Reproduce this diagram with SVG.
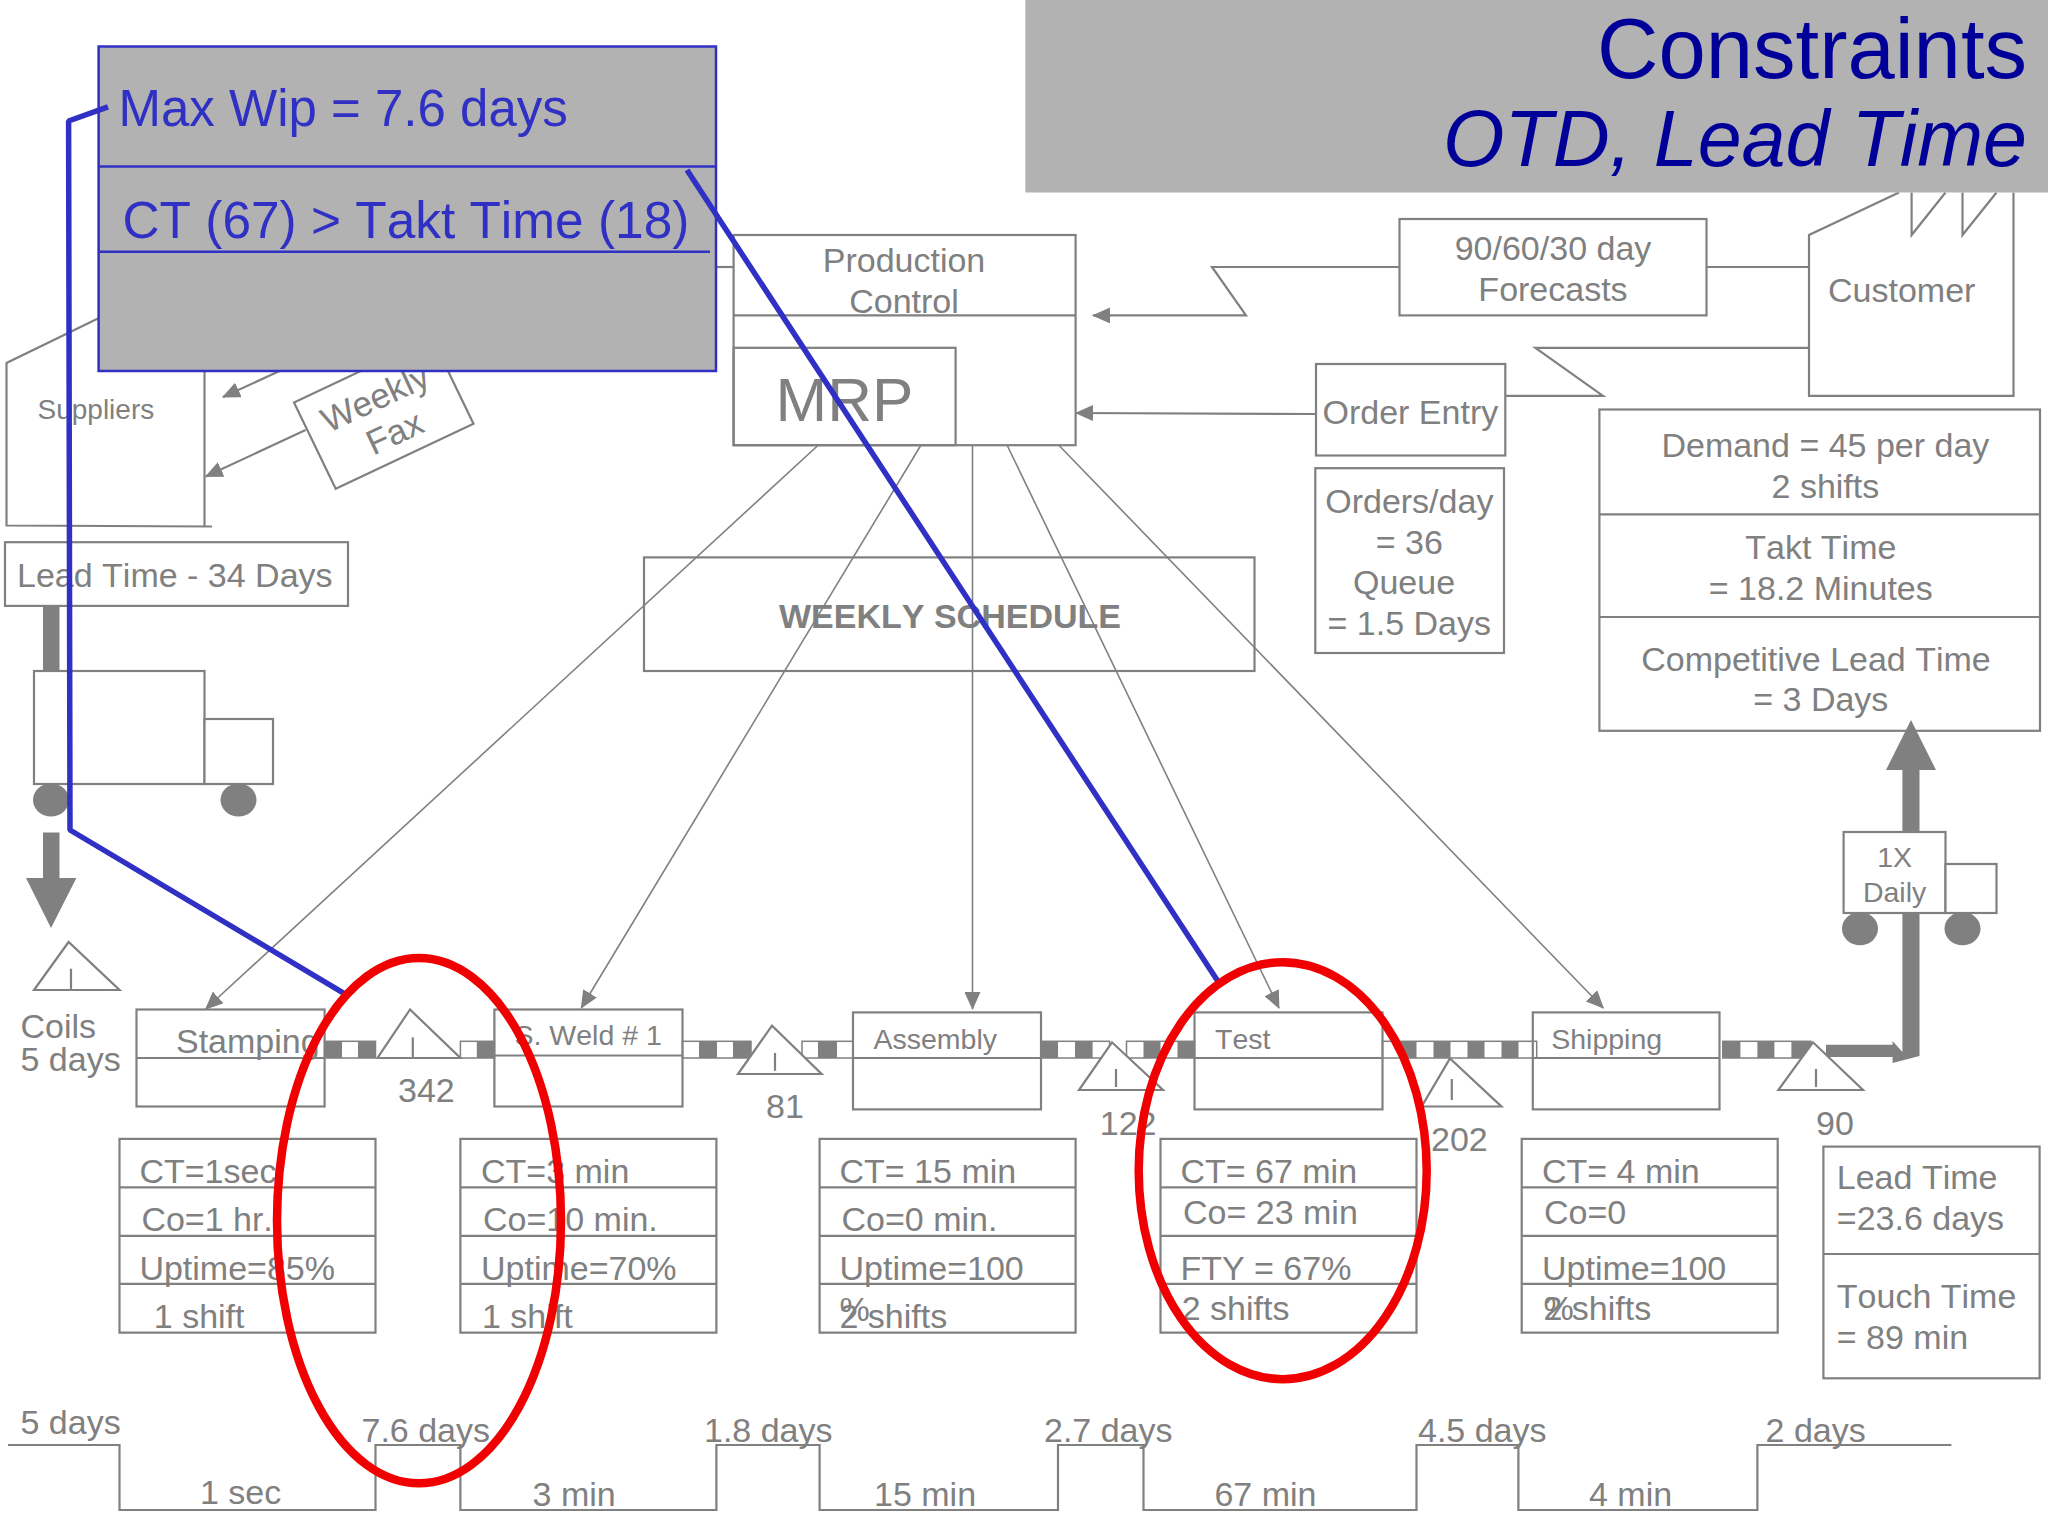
<svg xmlns="http://www.w3.org/2000/svg" width="2048" height="1536" viewBox="0 0 2048 1536">
<style>
text{font-family:"Liberation Sans",Arial,sans-serif;fill:#808080;font-size:34px;font-kerning:none}
.m{text-anchor:middle}
.s{font-size:28.500px}
.b{fill:#fff;stroke:#808080;stroke-width:2.200}
.n{fill:none;stroke:#808080;stroke-width:2.200}
.t{fill:none;stroke:#808080;stroke-width:1.600}
.g{fill:#808080;stroke:none}
.w{fill:#fff;stroke:#808080;stroke-width:1.500}
.bl{fill:none;stroke:#3030c4;stroke-width:5.500;stroke-linejoin:bevel}
.bt{fill:#3030c4;font-size:51px}
.red{fill:none;stroke:#f00000;stroke-width:8.500}
.panel{fill:#b2b2b2}
.tt{fill:#000099;text-anchor:end}
</style>
<defs>
<marker id="ah" markerUnits="userSpaceOnUse" markerWidth="18" markerHeight="16" refX="17" refY="8" orient="auto"><path d="M0 0L18 8L0 16Z" fill="#808080"/></marker>
</defs>
<rect width="2048" height="1536" fill="#fff"/>

<g id="connectors">
<path class="t" d="M818.400 445L205.700 1009" marker-end="url(#ah)"/>
<path class="t" d="M921 445L581.300 1008" marker-end="url(#ah)"/>
<path class="t" d="M972.500 445V1009" marker-end="url(#ah)"/>
<path class="t" d="M1007 445L1279 1008" marker-end="url(#ah)"/>
<path class="t" d="M1058.600 445L1603.300 1008" marker-end="url(#ah)"/>
<path class="n" d="M1399.500 267H1212L1246 315.400H1093" marker-end="url(#ah)"/>
<path class="n" d="M1706.500 267H1809"/>
<path class="n" d="M1809 347.800H1535.400L1603 395.800H1505.300"/>
<path class="n" d="M1316 414L1076 413" marker-end="url(#ah)"/>
<path class="n" d="M279.600 371L223 397" marker-end="url(#ah)"/>
<path class="n" d="M305.600 430L205.700 476.600" marker-end="url(#ah)"/>
<path class="n" d="M716 267H734"/>
<rect class="g" x="43" y="606" width="16.500" height="65"/>
<path class="g" d="M43 832.600H59.500V878H76.400L51 928L26 878H43Z"/>
<path class="g" d="M1902.400 1052V770H1886L1911 720L1936 770H1919.500V1056L1892.600 1063V1057H1826V1044.700H1892.600V1041Z"/>
</g>

<g id="timeline">
<path class="n" d="M8 1445H119.500V1510H375.500V1445H460.400V1510H716.400V1445H819.600V1510H1058V1445H1143.500V1510H1416.500V1445H1518.400V1510H1757.400V1445H1951.400"/>
<text x="20.500" y="1434">5 days</text>
<text x="200" y="1504">1 sec</text>
<text x="361.500" y="1441.500">7.6 days</text>
<text x="532.600" y="1506">3 min</text>
<text x="704" y="1441.500">1.8 days</text>
<text x="874" y="1506">15 min</text>
<text x="1044" y="1441.500">2.7 days</text>
<text x="1214.400" y="1506">67 min</text>
<text x="1418" y="1441.500">4.5 days</text>
<text x="1589" y="1506">4 min</text>
<text x="1765.600" y="1441.500">2 days</text>
</g>

<g id="suppliers">
<path class="n" d="M98 318.400L6.500 363V525.500L212 526.500M204.500 371V526.500"/>
<text x="37.500" y="418.800" style="font-size:28px">Suppliers</text>
</g>
<g id="weekly-fax">
<path class="b" d="M294 402.600L335.700 488.800L473.500 423.700L431.800 337.500Z"/>
<text class="m" transform="translate(375.500 399) rotate(-25)" y="11" style="font-size:35px">Weekly</text>
<text class="m" transform="translate(395 433.500) rotate(-25)" y="11" style="font-size:35px">Fax</text>
</g>
<g id="lead-time-34">
<rect class="n" x="5" y="542.200" width="343" height="63.700"/>
<text x="17" y="586.800">Lead Time - 34 Days</text>
</g>
<g id="supplier-truck">
<rect class="b" x="34" y="671" width="170.500" height="113"/>
<rect class="b" x="204.500" y="719" width="68.500" height="65"/>
<ellipse class="g" cx="51" cy="800" rx="18" ry="16.600"/>
<ellipse class="g" cx="238.500" cy="800" rx="18" ry="16.600"/>
</g>
<g id="coils">
<path class="n" d="M68.600 942L34 990H119.500ZM71 968.800V990"/>
<text x="20.500" y="1038.400">Coils</text>
<text x="20.500" y="1070.700">5 days</text>
</g>

<g id="production-control">
<rect class="n" x="733.600" y="235" width="342" height="210.200"/>
<path class="n" d="M733.600 315.400H1075.600"/>
<rect class="n" x="733.600" y="347.800" width="222" height="97.400"/>
<text class="m" x="904" y="272">Production</text>
<text class="m" x="904" y="312.500">Control</text>
<text x="775.500" y="421" style="font-size:62px">MRP</text>
</g>
<g id="weekly-schedule">
<rect class="n" x="644" y="557.400" width="610.500" height="113.600"/>
<text class="m" x="950" y="628" style="font-size:34px;font-weight:bold">WEEKLY SCHEDULE</text>
</g>
<g id="forecasts">
<rect class="n" x="1399.500" y="219" width="307" height="96.400"/>
<text class="m" x="1553" y="259.600">90/60/30 day</text>
<text class="m" x="1553" y="301">Forecasts</text>
</g>
<g id="customer">
<path class="n" d="M1899 192.500L1809 235V395.800H2013.500V192.500M1911.600 192.500V235L1945.500 192.500M1962.500 192.500V235L1996.500 192.500"/>
<text x="1828" y="302">Customer</text>
</g>
<g id="order-entry">
<rect class="n" x="1316" y="364" width="189.300" height="91.500"/>
<text x="1322.500" y="423.700">Order Entry</text>
</g>
<g id="orders-day">
<rect class="n" x="1315.300" y="468.200" width="188.700" height="184.800"/>
<text class="m" x="1409.300" y="512.800">Orders/day</text>
<text class="m" x="1409.300" y="553.500">= 36</text>
<text class="m" x="1404" y="594">Queue</text>
<text class="m" x="1409.300" y="635">= 1.5 Days</text>
</g>
<g id="demand">
<rect class="n" x="1599.400" y="409.500" width="440.600" height="321.300"/>
<path class="n" d="M1599.400 514.300H2040M1599.400 617H2040"/>
<text class="m" x="1825.400" y="457">Demand = 45 per day</text>
<text class="m" x="1825.400" y="498">2 shifts</text>
<text class="m" x="1820.800" y="559.300">Takt Time</text>
<text class="m" x="1820.800" y="600">= 18.2 Minutes</text>
<text class="m" x="1816" y="671">Competitive Lead Time</text>
<text class="m" x="1820.800" y="711">= 3 Days</text>
</g>
<g id="daily-truck">
<rect class="b" x="1843.600" y="832" width="101.900" height="81"/>
<rect class="b" x="1945.500" y="864" width="51" height="49"/>
<ellipse class="g" cx="1860" cy="928.700" rx="18" ry="16.600"/>
<ellipse class="g" cx="1962.500" cy="928.700" rx="18" ry="16.600"/>
<text class="m s" x="1894.600" y="867.400">1X</text>
<text class="m s" x="1894.600" y="901.700">Daily</text>
</g>

<g id="conveyors">
<rect class="w" x="324.600" y="1041.300" width="50.900" height="16.700"/><rect class="g" x="324.600" y="1041.300" width="17.400" height="16.700"/><rect class="g" x="358" y="1041.300" width="17.500" height="16.700"/>
<rect class="w" x="460.400" y="1041.300" width="34" height="16.700"/><rect class="g" x="476.800" y="1041.300" width="17.600" height="16.700"/>
<rect class="w" x="682.500" y="1041.300" width="68.500" height="16.700"/><rect class="g" x="699" y="1041.300" width="18" height="16.700"/><rect class="g" x="733" y="1041.300" width="18" height="16.700"/>
<rect class="w" x="802" y="1041.300" width="51" height="16.700"/><rect class="g" x="818" y="1041.300" width="19" height="16.700"/>
<rect class="w" x="1041" y="1041.300" width="68.600" height="16.700"/><rect class="g" x="1041" y="1041.300" width="17" height="16.700"/><rect class="g" x="1075" y="1041.300" width="17.600" height="16.700"/>
<rect class="w" x="1126.500" y="1041.300" width="68" height="16.700"/><rect class="g" x="1143.500" y="1041.300" width="17" height="16.700"/><rect class="g" x="1177.500" y="1041.300" width="17" height="16.700"/>
<rect class="w" x="1382.500" y="1041.300" width="154.200" height="16.700"/><rect class="g" x="1399.500" y="1041.300" width="17" height="16.700"/><rect class="g" x="1433.500" y="1041.300" width="17" height="16.700"/><rect class="g" x="1467.500" y="1041.300" width="17" height="16.700"/><rect class="g" x="1501.500" y="1041.300" width="17" height="16.700"/>
<rect class="w" x="1722.800" y="1041.300" width="88.200" height="16.700"/><rect class="g" x="1722.800" y="1041.300" width="17.600" height="16.700"/><rect class="g" x="1757.400" y="1041.300" width="17" height="16.700"/><rect class="g" x="1791.400" y="1041.300" width="19.600" height="16.700"/>
</g>

<g id="inv-342"><path class="b" d="M410 1009.500L377.500 1058H460.400Z"/><path class="n" d="M412.800 1037.400V1057"/><text x="398" y="1102">342</text></g>
<g id="inv-81"><path class="b" d="M772 1025.600L738 1074H821.600Z"/><path class="n" d="M775 1053V1070.700"/><text x="766" y="1118">81</text></g>
<g id="inv-122"><path class="b" d="M1112 1042.300L1079 1090H1163Z"/><path class="n" d="M1116 1069V1087"/><text x="1099.800" y="1135">122</text></g>
<g id="inv-202"><path class="b" d="M1450 1058.400L1421.700 1106.500H1501.400Z"/><path class="n" d="M1451.800 1079V1100"/><text x="1431" y="1151">202</text></g>
<g id="inv-90"><path class="b" d="M1813 1042.300L1778.300 1090H1863Z"/><path class="n" d="M1816 1069V1087"/><text x="1816" y="1135">90</text></g>

<g id="stamping">
<rect class="n" x="136.500" y="1009.500" width="188.100" height="97"/><path class="n" d="M136.500 1058H324.600"/>
<text x="176" y="1052.500">Stamping</text>
</g>
<g id="s-weld">
<rect class="n" x="494.400" y="1009.500" width="188.100" height="97"/><path class="n" d="M494.400 1055.500H682.500"/>
<text class="s" x="514.500" y="1045">S. Weld # 1</text>
</g>
<g id="assembly">
<rect class="n" x="853" y="1012.400" width="188" height="97"/><path class="n" d="M853 1058H1041"/>
<text class="s" x="873.500" y="1048.600">Assembly</text>
</g>
<g id="test">
<rect class="n" x="1194.500" y="1012.400" width="188" height="97"/><path class="n" d="M1194.500 1058H1382.500"/>
<text class="s" x="1215" y="1048.600">Test</text>
</g>
<g id="shipping">
<rect class="n" x="1532.800" y="1012.400" width="186.700" height="97"/><path class="n" d="M1532.800 1058H1719.500"/>
<text class="s" x="1551.200" y="1048.600">Shipping</text>
</g>

<g id="data-stamping">
<path class="n" d="M119.500 1138.800H375.500V1332.700H119.500ZM119.500 1187.300H375.500M119.500 1235.800H375.500M119.500 1283.800H375.500"/>
<text x="139.400" y="1183.300">CT=1sec</text>
<text x="141.400" y="1230.900">Co=1 hr.</text>
<text x="139.400" y="1279.800">Uptime=85%</text>
<text x="153.800" y="1327.800">1 shift</text>
</g>
<g id="data-weld">
<path class="n" d="M460.400 1138.800H716.400V1332.700H460.400ZM460.400 1187.300H716.400M460.400 1235.800H716.400M460.400 1283.800H716.400"/>
<text x="481" y="1183.300">CT=3 min</text>
<text x="483" y="1230.900">Co=10 min.</text>
<text x="481" y="1279.800">Uptime=70%</text>
<text x="482" y="1327.800">1 shift</text>
</g>
<g id="data-assembly">
<path class="n" d="M819.600 1138.800H1075.600V1332.700H819.600ZM819.600 1187.300H1075.600M819.600 1235.800H1075.600M819.600 1283.800H1075.600"/>
<text x="839.500" y="1183.300">CT= 15 min</text>
<text x="841.500" y="1230.900">Co=0 min.</text>
<text x="839.500" y="1279.800">Uptime=100</text>
<text x="839.500" y="1321">%</text>
<text x="839.500" y="1327.800">2 shifts</text>
</g>
<g id="data-test">
<path class="n" d="M1160.500 1138.800H1416.500V1332.700H1160.500ZM1160.500 1187.300H1416.500M1160.500 1235.800H1416.500M1160.500 1283.800H1416.500"/>
<text x="1180.400" y="1183.300">CT= 67 min</text>
<text x="1183" y="1223.500">Co= 23 min</text>
<text x="1180.400" y="1279.800">FTY = 67%</text>
<text x="1181.700" y="1320">2 shifts</text>
</g>
<g id="data-shipping">
<path class="n" d="M1521.700 1138.800H1777.700V1332.700H1521.700ZM1521.700 1187.300H1777.700M1521.700 1235.800H1777.700M1521.700 1283.800H1777.700"/>
<text x="1542" y="1183.300">CT= 4 min</text>
<text x="1544" y="1223.500">Co=0</text>
<text x="1542" y="1279.800">Uptime=100</text>
<text x="1543.500" y="1320">%</text>
<text x="1543.500" y="1320">2 shifts</text>
</g>
<g id="lead-time-23">
<rect class="n" x="1823.400" y="1146.600" width="216.200" height="231.700"/><path class="n" d="M1823.400 1254H2039.600"/>
<text x="1836.800" y="1189">Lead Time</text>
<text x="1836.800" y="1230">=23.6 days</text>
<text x="1836.800" y="1308">Touch Time</text>
<text x="1836.800" y="1349">= 89 min</text>
</g>

<g id="title">
<rect class="panel" x="1025.300" y="0" width="1022.700" height="192.500"/>
<text class="tt" x="2027" y="78.400" style="font-size:85px">Constraints</text>
<text class="tt" x="2027" y="165.600" style="font-size:79px;font-style:italic">OTD, Lead Time</text>
</g>
<g id="callout">
<rect class="panel" x="98.600" y="46.500" width="617.400" height="324.500" stroke="#3030c4" stroke-width="2.500"/>
<path d="M98.600 166.500H716M98.600 251.800H710" stroke="#3030c4" stroke-width="2.500"/>
<text class="bt" x="118.500" y="125.500">Max Wip = 7.6 days</text>
<text class="bt" x="122.500" y="237.500" style="font-size:51.400px">CT (67) &gt; Takt Time (18)</text>
</g>
<g id="constraint-links">
<path class="bl" d="M108 106.800L68.600 121L70 830L344 993.300"/>
<path class="bl" d="M687 170L1218.700 982.500"/>
</g>
<g id="constraint-rings">
<ellipse class="red" cx="419" cy="1220.700" rx="142" ry="262.600"/>
<ellipse class="red" cx="1282.700" cy="1170.700" rx="144" ry="208.500"/>
</g>
</svg>
